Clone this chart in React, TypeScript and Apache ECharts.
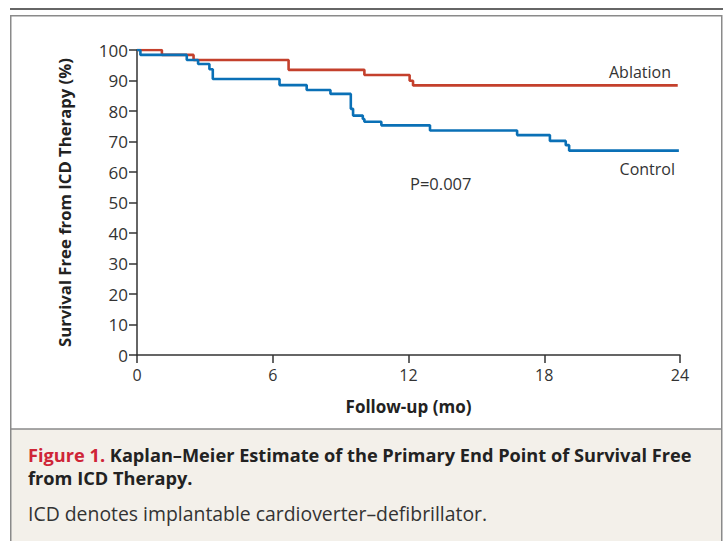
import React, { useEffect, useRef } from 'react';
import * as echarts from 'echarts';

// Kaplan–Meier step data (time in months, survival %)
const ablationTimes = [0, 1.1, 2.5, 6.7, 10.05, 12.05, 12.2, 23.9];
const ablationSurvival = [100, 98.4, 96.7, 93.5, 91.8, 89.9, 88.4, 88.4];

const controlTimes = [0, 0.15, 2.2, 2.7, 3.2, 3.35, 6.3, 7.5, 8.55, 9.45, 9.55, 9.98, 10.05, 10.8, 12.95, 16.8, 18.25, 18.95, 19.1, 23.95];
const controlSurvival = [100, 98.4, 96.7, 95.4, 93.7, 90.5, 88.5, 86.9, 85.6, 80.7, 78.5, 77.4, 76.5, 75.3, 73.6, 72.1, 70.2, 68.8, 67.0, 67.0];

const xMin = 0;
const xMax = 24;
const xInterval = 6;
const yMin = 0;
const yMax = 100;
const yInterval = 10;

const xTitle = 'Follow-up (mo)';
const yTitle = 'Survival Free from ICD Therapy (%)';
const seriesNames = ['Ablation', 'Control'];
const pValueText = 'P=0.007';
const captionLabel = 'Figure 1.';
const captionTitle1 = 'Kaplan–Meier Estimate of the Primary End Point of Survival Free';
const captionTitle2 = 'from ICD Therapy.';
const captionNote = 'ICD denotes implantable cardioverter–defibrillator.';

const FONT_NAME = 'Open Sans';
const FONT = '"Open Sans", "Noto Sans", sans-serif';

function measure(text: string, font: string): number {
  const c = document.createElement('canvas');
  const ctx = c.getContext('2d');
  if (!ctx) return text.length * 9;
  ctx.font = font;
  return ctx.measureText(text).width;
}

export default function App() {
  const ref = useRef<HTMLDivElement>(null);

  useEffect(() => {
    if (!ref.current) return;
    const chart = echarts.init(ref.current, undefined, { renderer: 'svg' });
    const ablationData = ablationTimes.map((t, i) => [t, ablationSurvival[i]]);
    const controlData = controlTimes.map((t, i) => [t, controlSurvival[i]]);
    const axisColor = '#333';
    const textColor = '#333';

    const capBoldSize = 18.2;
    const capRegSize = 19.4;
    const labelWidth = measure(captionLabel + ' ', `bold ${capBoldSize}px "${FONT_NAME}"`);

    chart.setOption({
      animation: false,
      backgroundColor: '#ffffff',
      textStyle: { fontFamily: FONT },
      grid: { left: 137, right: 43, top: 50, bottom: 186, containLabel: false },
      xAxis: {
        type: 'value',
        min: xMin,
        max: xMax,
        interval: xInterval,
        axisLine: { show: true, lineStyle: { color: axisColor, width: 1.5 } },
        axisTick: { show: true, length: 8, lineStyle: { color: axisColor, width: 1.5 } },
        axisLabel: { margin: 12, fontSize: 16, color: textColor, fontFamily: FONT },
        splitLine: { show: false },
        name: xTitle,
        nameLocation: 'middle',
        nameGap: 43,
        nameTextStyle: { fontSize: 17, fontWeight: 'bold', color: '#222', fontFamily: FONT },
      },
      yAxis: {
        type: 'value',
        min: yMin,
        max: yMax,
        interval: yInterval,
        axisLine: { show: true, lineStyle: { color: axisColor, width: 1.5 } },
        axisTick: { show: true, length: 8, lineStyle: { color: axisColor, width: 1.5 } },
        axisLabel: { margin: 9, fontSize: 17, color: textColor, fontFamily: FONT },
        splitLine: { show: false },
        name: yTitle,
        nameLocation: 'middle',
        nameGap: 64,
        nameTextStyle: { fontSize: 16.7, fontWeight: 'bold', color: '#222', fontFamily: FONT },
      },
      series: [
        {
          name: seriesNames[0],
          type: 'line',
          step: 'end',
          data: ablationData,
          showSymbol: false,
          z: 3,
          lineStyle: { color: '#c4402c', width: 2.6 },
          itemStyle: { color: '#c4402c' },
        },
        {
          name: seriesNames[1],
          type: 'line',
          step: 'end',
          data: controlData,
          showSymbol: false,
          z: 4,
          lineStyle: { color: '#0a70b6', width: 2.6 },
          itemStyle: { color: '#0a70b6' },
        },
      ],
      graphic: [
        { type: 'rect', z: -10, silent: true, shape: { x: 10, y: 8, width: 713, height: 2 }, style: { fill: '#666' } },
        { type: 'rect', z: -10, silent: true, shape: { x: 11, y: 429, width: 711, height: 130 }, style: { fill: '#f3f0ea' } },
        { type: 'rect', z: -9, silent: true, shape: { x: 10.75, y: 15.75, width: 711, height: 600 }, style: { fill: 'none', stroke: '#8a8a8a', lineWidth: 1.5 } },
        { type: 'line', z: -9, silent: true, shape: { x1: 11, y1: 429, x2: 722, y2: 429 }, style: { stroke: '#8a8a8a', lineWidth: 1.5 } },
        { type: 'text', z: 10, x: 671, y: 72, style: { text: seriesNames[0], fontSize: 16, fontFamily: FONT, fill: textColor, align: 'right', verticalAlign: 'middle' } },
        { type: 'text', z: 10, x: 675, y: 169, style: { text: seriesNames[1], fontSize: 16, fontFamily: FONT, fill: textColor, align: 'right', verticalAlign: 'middle' } },
        { type: 'text', z: 10, x: 410, y: 183.5, style: { text: pValueText, fontSize: 16.5, fontFamily: FONT, fill: textColor, align: 'left', verticalAlign: 'middle' } },
        { type: 'text', z: 10, x: 28, y: 455, style: { text: captionLabel, fontSize: capBoldSize, fontWeight: 'bold', fill: '#cf2537', fontFamily: FONT, align: 'left', verticalAlign: 'middle' } },
        { type: 'text', z: 10, x: 28 + labelWidth, y: 455, style: { text: captionTitle1, fontSize: capBoldSize, fontWeight: 'bold', fill: '#222', fontFamily: FONT, align: 'left', verticalAlign: 'middle' } },
        { type: 'text', z: 10, x: 28, y: 477.5, style: { text: captionTitle2, fontSize: capBoldSize, fontWeight: 'bold', fill: '#222', fontFamily: FONT, align: 'left', verticalAlign: 'middle' } },
        { type: 'text', z: 10, x: 28, y: 513.5, style: { text: captionNote, fontSize: capRegSize, fill: '#333', fontFamily: FONT, align: 'left', verticalAlign: 'middle' } },
      ],
    });
    return () => chart.dispose();
  }, []);

  return <div ref={ref} style={{ position: 'fixed', left: 0, top: 0, width: 723, height: 541 }} />;
}
